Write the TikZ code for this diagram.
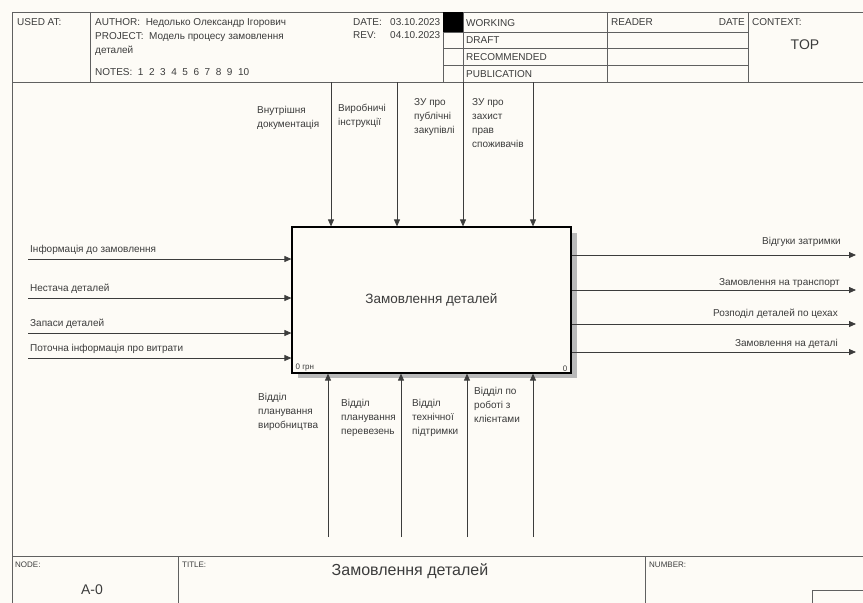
\documentclass[tikz,border=0pt]{standalone}
\usepackage{fontspec}
\setmainfont{Liberation Sans}
\usetikzlibrary{arrows.meta}
\definecolor{paper}{RGB}{253,251,246}
\definecolor{ink}{RGB}{60,60,60}

\begin{document}
\begin{tikzpicture}[x=1pt, y=-1pt, >={Triangle[length=7pt,width=6pt]},
    every node/.style={font=\fontsize{10}{14}\selectfont, inner sep=0pt, text=ink},
    frame/.style={draw=gray!75!black, line width=1pt},
    flow/.style={->, draw=ink, line width=0.8pt},
    lbl/.style={align=left, anchor=north west}]
    \fill[paper] (0,0) rectangle (863,603);
    \useasboundingbox (0,0) rectangle (863,603);

    % frame and header
    \draw[frame] (12,603) -- (12,12) -- (863,12);
    \draw[frame] (12,82) -- (863,82);
    \draw[frame] (12,556) -- (863,556);
    \draw[frame] (90,12) -- (90,82);
    \draw[frame] (443,12) -- (443,82);
    \draw[frame] (463,12) -- (463,82);
    \draw[frame] (607,12) -- (607,82);
    \draw[frame] (748,12) -- (748,82);
    \draw[frame] (443,32) -- (748,32);
    \draw[frame] (443,48) -- (748,48);
    \draw[frame] (443,65) -- (748,65);
    \fill[black] (443,12) rectangle (463,32);

    \node[anchor=base west] (usedat) at (17,25) {USED AT:};
    \node[anchor=base west] (author) at (95,25) {AUTHOR:\ \ Недолько Олександр Ігорович};
    \node[anchor=base west] (project) at (95,39) {PROJECT:\ \ Модель процесу замовлення};
    \node[anchor=base west] (project2) at (95,53) {деталей};
    \node[anchor=base west] (notes) at (95,75) {NOTES:\ \ 1\ \ 2\ \ 3\ \ 4\ \ 5\ \ 6\ \ 7\ \ 8\ \ 9\ \ 10};
    \node[anchor=base west] (date) at (353,25) {DATE:};
    \node[anchor=base west] (datev) at (390,25) {03.10.2023};
    \node[anchor=base west] (rev) at (353,38) {REV:};
    \node[anchor=base west] (revv) at (390,38) {04.10.2023};
    \node[anchor=base west] (working) at (466,26) {WORKING};
    \node[anchor=base west] (draft) at (466,43) {DRAFT};
    \node[anchor=base west] (recommended) at (466,60) {RECOMMENDED};
    \node[anchor=base west] (publication) at (466,77) {PUBLICATION};
    \node[anchor=base west] (reader) at (611,25) {READER};
    \node[anchor=base east] (readerdate) at (745,25) {DATE};
    \node[anchor=base west] (context) at (752,25) {CONTEXT:};
    \node[font=\fontsize{14}{16}\selectfont] (top) at (805,45) {TOP};

    % activity box
    \fill[gray!55] (571,233) rectangle (577,378);
    \fill[gray!55] (298,373) rectangle (577,378);
    \node[draw=black, line width=1.2pt, fill=paper, minimum width=279pt, minimum height=146pt,
        font=\fontsize{13.5}{16}\selectfont] (box) at (431.5,300) {Замовлення деталей};
    \node[anchor=south west, font=\fontsize{8}{10}\selectfont] (cost) at ([shift={(4,-2)}]box.south west) {0 грн};
    \node[anchor=south east, font=\fontsize{8}{10}\selectfont] (num) at ([shift={(-4,-2)}]box.south east) {0};

    % controls
    \coordinate (c1) at (331,82);
    \coordinate (c2) at (397,82);
    \coordinate (c3) at (463,82);
    \coordinate (c4) at (533,82);
    \draw[flow] (c1) -- (c1 |- box.north);
    \draw[flow] (c2) -- (c2 |- box.north);
    \draw[flow] (c3) -- (c3 |- box.north);
    \draw[flow] (c4) -- (c4 |- box.north);
    \node[lbl] (ctl1) at (257,106) {Внутрішня\\документація};
    \node[lbl] (ctl2) at (338,104) {Виробничі\\інструкції};
    \node[lbl] (ctl3) at (414,98) {ЗУ про\\публічні\\закупівлі};
    \node[lbl] (ctl4) at (472,98) {ЗУ про\\захист\\прав\\споживачів};

    % inputs
    \coordinate (i1) at (28,259);
    \coordinate (i2) at (28,298);
    \coordinate (i3) at (28,333);
    \coordinate (i4) at (28,358);
    \draw[flow] (i1) -- (i1 -| box.west);
    \draw[flow] (i2) -- (i2 -| box.west);
    \draw[flow] (i3) -- (i3 -| box.west);
    \draw[flow] (i4) -- (i4 -| box.west);
    \node[anchor=base west] (in1) at (30,252) {Інформація до замовлення};
    \node[anchor=base west] (in2) at (30,291) {Нестача деталей};
    \node[anchor=base west] (in3) at (30,326) {Запаси деталей};
    \node[anchor=base west] (in4) at (30,351) {Поточна інформація про витрати};

    % outputs
    \coordinate (o1) at (856,255);
    \coordinate (o2) at (856,290);
    \coordinate (o3) at (856,324);
    \coordinate (o4) at (856,352);
    \draw[flow] (box.east |- o1) -- (o1);
    \draw[flow] (box.east |- o2) -- (o2);
    \draw[flow] (box.east |- o3) -- (o3);
    \draw[flow] (box.east |- o4) -- (o4);
    \node[anchor=base east] (out1) at (841,244) {Відгуки затримки};
    \node[anchor=base east] (out2) at (840,285) {Замовлення на транспорт};
    \node[anchor=base east] (out3) at (838,316) {Розподіл деталей по цехах};
    \node[anchor=base east] (out4) at (838,346) {Замовлення на деталі};

    % mechanisms
    \coordinate (m1) at (328,537);
    \coordinate (m2) at (401,537);
    \coordinate (m3) at (467,537);
    \coordinate (m4) at (533,537);
    \draw[flow] (m1) -- (m1 |- box.south);
    \draw[flow] (m2) -- (m2 |- box.south);
    \draw[flow] (m3) -- (m3 |- box.south);
    \draw[flow] (m4) -- (m4 |- box.south);
    \node[lbl] (mech1) at (258,393) {Відділ\\планування\\виробництва};
    \node[lbl] (mech2) at (341,399) {Відділ\\планування\\перевезень};
    \node[lbl] (mech3) at (412,399) {Відділ\\технічної\\підтримки};
    \node[lbl] (mech4) at (474,387) {Відділ по\\роботі з\\клієнтами};

    % footer
    \draw[frame] (178,556) -- (178,603);
    \draw[frame] (645,556) -- (645,603);
    \draw[frame] (812,603) -- (812,590) -- (863,590);
    \node[anchor=base west, font=\fontsize{8}{10}\selectfont] (nodelbl) at (15,567) {NODE:};
    \node[font=\fontsize{14}{16}\selectfont] (nodeid) at (92,590) {A-0};
    \node[anchor=base west, font=\fontsize{8}{10}\selectfont] (titlelbl) at (182,567) {TITLE:};
    \node[font=\fontsize{16}{18}\selectfont] (title) at (410,571) {Замовлення деталей};
    \node[anchor=base west, font=\fontsize{8}{10}\selectfont] (numberlbl) at (649,567) {NUMBER:};
\end{tikzpicture}
\end{document}
